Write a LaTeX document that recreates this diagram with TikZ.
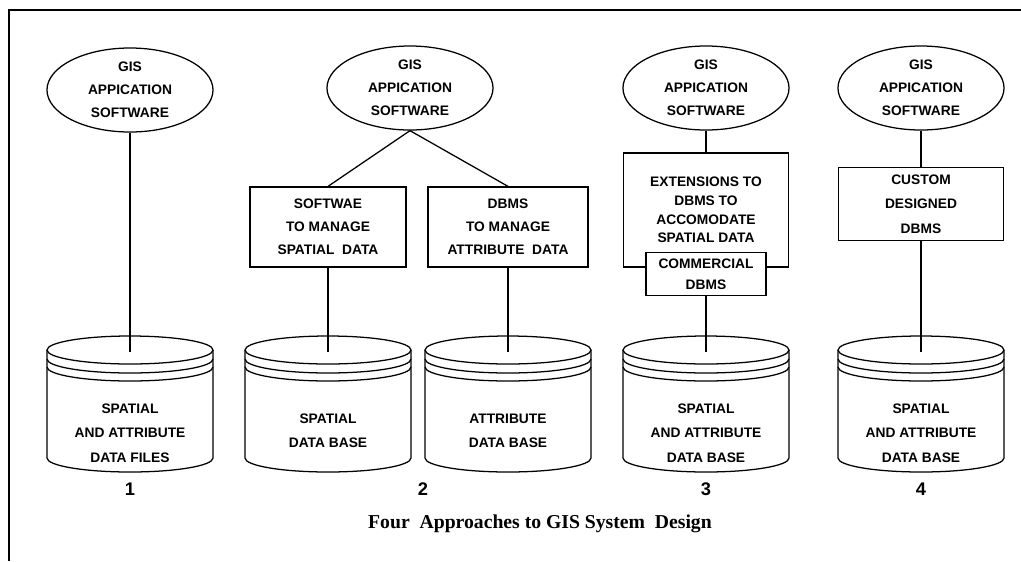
\documentclass[tikz,border=0pt]{standalone}
\usepackage{fontspec}
\setmainfont{Liberation Serif}
\setsansfont{Liberation Sans}
\usetikzlibrary{shapes.geometric}
\newcommand{\gisfont}{\sffamily\bfseries\fontsize{9.8}{16.5}\selectfont}

\begin{document}
\begin{tikzpicture}[x=0.025cm,y=-0.025cm,line width=0.9pt,
        app/.style={ellipse,draw,minimum width=4.15cm,minimum height=2.1cm,inner sep=0pt,align=center,font=\gisfont},
        box/.style={draw,fill=white,inner sep=0pt,align=center,font=\gisfont},
        txt/.style={align=center,font=\gisfont},
        num/.style={font=\sffamily\bfseries\fontsize{13}{13}\selectfont},
        dbase/.pic={
            \draw[fill=white] (-83,0) -- (-83,108) arc[start angle=180,end angle=0,x radius=83,y radius=14] -- (83,0);
            \draw (0,0) ellipse[x radius=83,y radius=14];
            \draw (-83,9) arc[start angle=180,end angle=0,x radius=83,y radius=14];
            \draw (-83,17) arc[start angle=180,end angle=0,x radius=83,y radius=14];
            \coordinate (-top) at (0,2);
        }]
            \useasboundingbox (0,0) rectangle (1021,561);
            \draw[line width=1.4pt] (1021,10) -- (9,10) -- (9,561);

            \node[app] at (130,90) (gis1) {GIS\\APPICATION\\SOFTWARE};
            \node[app] at (410,88) (gis2) {GIS\\APPICATION\\SOFTWARE};
            \node[app] at (706,88) (gis3) {GIS\\APPICATION\\SOFTWARE};
            \node[app] at (921,88) (gis4) {GIS\\APPICATION\\SOFTWARE};

            \node[box,minimum width=3.9cm,minimum height=2cm] at (328,227) (sw2) {SOFTWAE\\TO MANAGE\\SPATIAL\ \ DATA};
            \node[box,minimum width=4cm,minimum height=2cm] at (508,227) (dbm2) {DBMS\\TO MANAGE\\ATTRIBUTE\ \ DATA};
            \node[box,minimum width=4.12cm,minimum height=2.85cm,font=\gisfont\fontsize{9.8}{13.2}\selectfont] at (706,210) (ext3) {EXTENSIONS TO\\DBMS TO\\ACCOMODATE\\SPATIAL DATA};
            \node[box,minimum width=3cm,minimum height=1.08cm,font=\gisfont\fontsize{9.8}{15}\selectfont] at (706,274) (com3) {COMMERCIAL\\DBMS};
            \node[box,minimum width=4.12cm,minimum height=1.83cm,font=\gisfont\fontsize{9.8}{17.5}\selectfont] at (921,204) (cus4) {CUSTOM\\DESIGNED\\DBMS};

            \pic (db1) at (130,350) {dbase};
            \pic (db2a) at (328,350) {dbase};
            \pic (db2b) at (508,350) {dbase};
            \pic (db3) at (706,350) {dbase};
            \pic (db4) at (921,350) {dbase};

            \node[txt,font=\gisfont\fontsize{9.8}{17.4}\selectfont] at (130,433) (t1) {SPATIAL\\AND ATTRIBUTE\\DATA FILES};
            \node[txt,font=\gisfont\fontsize{9.8}{17.4}\selectfont] at (328,431) (t2a) {SPATIAL\\DATA BASE};
            \node[txt,font=\gisfont\fontsize{9.8}{17.4}\selectfont] at (508,431) (t2b) {ATTRIBUTE\\DATA BASE};
            \node[txt,font=\gisfont\fontsize{9.8}{17.4}\selectfont] at (706,433) (t3) {SPATIAL\\AND ATTRIBUTE\\DATA BASE};
            \node[txt,font=\gisfont\fontsize{9.8}{17.4}\selectfont] at (921,433) (t4) {SPATIAL\\AND ATTRIBUTE\\DATA BASE};

            \node[num] at (130,489) (n1) {1};
            \node[num] at (423,489) (n2) {2};
            \node[num] at (706,489) (n3) {3};
            \node[num] at (921,489) (n4) {4};
            \node[font=\bfseries\fontsize{14}{14}\selectfont] at (540,524) (title) {Four\ \ Approaches to GIS System\ \ Design};

            \draw (gis1) -- (db1-top);
            \draw (gis2.south) -- (sw2.north);
            \draw (gis2.south) -- (dbm2.north);
            \draw (sw2) -- (db2a-top);
            \draw (dbm2) -- (db2b-top);
            \draw (gis3) -- (ext3);
            \draw (com3) -- (db3-top);
            \draw (gis4) -- (cus4);
            \draw (cus4) -- (db4-top);
        \end{tikzpicture}
\end{document}
